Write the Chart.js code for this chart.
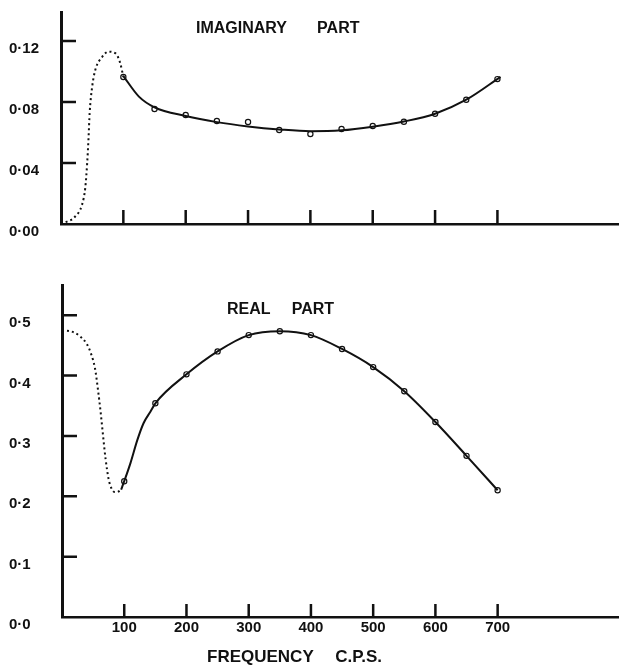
<!DOCTYPE html>
<html>
<head>
<meta charset="utf-8">
<script src="https://cdn.jsdelivr.net/npm/chart.js@4"></script>
<style>
  body { margin: 0; background: #fff; }
  #wrap { position: relative; width: 619px; height: 665px; }
  canvas { position: absolute; left: 0; }
  .lbl {
    position: absolute;
    font: bold 16px "Liberation Sans", Arial, sans-serif;
    line-height: 1;
    color: #111;
    white-space: nowrap;
  }
</style>
</head>
<body>
<div id="wrap">
  <canvas id="imag" width="619" height="250" style="top:0"></canvas>
  <canvas id="real" width="619" height="415" style="top:250px"></canvas>
  <div class="lbl" style="left:196px;top:20px;word-spacing:26px">IMAGINARY PART</div>
  <div class="lbl" style="left:227px;top:301px;word-spacing:17px">REAL PART</div>
  <div class="lbl" style="left:207px;top:648px;font-size:17px;word-spacing:17px">FREQUENCY C.P.S.</div>
</div>
<script>
// measured frequencies (c.p.s.)
const freqPoints = [100, 150, 200, 250, 300, 350, 400, 450, 500, 550, 600, 650, 700];
const imagPoints = [0.0964, 0.0754, 0.0715, 0.0675, 0.0669, 0.0616, 0.059, 0.0623, 0.0643, 0.067, 0.0723, 0.0815, 0.095];
const realPoints = [0.225, 0.354, 0.402, 0.440, 0.467, 0.4735, 0.467, 0.444, 0.414, 0.374, 0.323, 0.267, 0.210];

// smooth curves drawn through the points
const imagFitFreq = [100, 125, 150, 200, 250, 300, 350, 400, 450, 500, 550, 600, 650, 705];
const imagFitVals = [0.097, 0.0835, 0.0765, 0.0708, 0.0668, 0.064, 0.062, 0.0608, 0.0614, 0.0638, 0.0672, 0.0723, 0.0815, 0.0965];
const realFitFreq = [95, 100, 110, 121, 131, 142, 150, 200, 250, 300, 350, 400, 450, 500, 550, 600, 650, 700];
const realFitVals = [0.211, 0.225, 0.255, 0.293, 0.321, 0.340, 0.354, 0.402, 0.440, 0.467, 0.4735, 0.467, 0.444, 0.414, 0.374, 0.323, 0.267, 0.210];

// dotted (extrapolated) parts below 100 c.p.s.
const imagDotFreq = [0, 6, 22, 34, 39, 42, 44, 46, 50, 55, 66, 76, 87, 95, 100];
const imagDotVals = [0, 0.001, 0.0046, 0.013, 0.024, 0.040, 0.055, 0.073, 0.090, 0.101, 0.1095, 0.113, 0.112, 0.1055, 0.0964];
const realDotFreq = [0, 15, 29, 40, 47, 53, 58, 62, 66, 70, 75, 80, 85, 91, 95];
const realDotVals = [0.475, 0.473, 0.465, 0.452, 0.435, 0.412, 0.375, 0.340, 0.300, 0.262, 0.228, 0.212, 0.207, 0.208, 0.211];

// axis ticks
const xTickVals = [100, 200, 300, 400, 500, 600, 700];
const xTickLabels = ['100', '200', '300', '400', '500', '600', '700'];
const imagTickVals = [0, 0.04, 0.08, 0.12];
const imagTickLabels = ['0·00', '0·04', '0·08', '0·12'];
const realTickVals = [0, 0.1, 0.2, 0.3, 0.4, 0.5];
const realTickLabels = ['0·0', '0·1', '0·2', '0·3', '0·4', '0·5'];

Chart.defaults.font.family = '"Liberation Sans", Arial, sans-serif';
Chart.defaults.color = '#111';

const toXY = (xs, ys) => xs.map((x, i) => ({ x, y: ys[i] }));

// tick marks pointing into the plot
const innerTicks = {
  id: 'innerTicks',
  afterDraw(chart, args, opts) {
    const { ctx, chartArea, scales } = chart;
    ctx.save();
    ctx.strokeStyle = '#111';
    ctx.lineWidth = 2.5;
    ctx.beginPath();
    opts.x.forEach((v) => {
      const px = scales.x.getPixelForValue(v);
      ctx.moveTo(px, chartArea.bottom);
      ctx.lineTo(px, chartArea.bottom - opts.xLen);
    });
    opts.y.forEach((v) => {
      if (v === 0) return;
      const py = scales.y.getPixelForValue(v);
      ctx.moveTo(chartArea.left, py);
      ctx.lineTo(chartArea.left + opts.yLen, py);
    });
    ctx.stroke();
    ctx.restore();
  },
};

const dotted = (data) => ({
  data,
  borderColor: '#111',
  borderWidth: 2,
  borderDash: [2, 3],
  pointRadius: 0,
  cubicInterpolationMode: 'monotone',
});

const solid = (data) => ({
  data,
  borderColor: '#111',
  borderWidth: 2,
  pointRadius: 0,
  cubicInterpolationMode: 'monotone',
});

const circles = (data) => ({
  data,
  showLine: false,
  pointRadius: 2.6,
  pointBackgroundColor: '#fff',
  pointBorderColor: '#111',
  pointBorderWidth: 1.2,
});

function makePanel(id, datasets, p) {
  new Chart(document.getElementById(id), {
    type: 'line',
    data: { datasets },
    plugins: [innerTicks],
    options: {
      responsive: false,
      animation: false,
      layout: { autoPadding: false, padding: { left: 9, top: p.top, right: 0, bottom: 0 } },
      plugins: {
        legend: { display: false },
        tooltip: { enabled: false },
        innerTicks: { x: xTickVals, y: p.yTicks, xLen: p.xLen, yLen: 15 },
      },
      scales: {
        x: {
          type: 'linear',
          min: 0,
          max: 895,
          grid: { display: false, drawTicks: false },
          border: { display: true, color: '#111', width: 2.5 },
          afterBuildTicks: (s) => { s.ticks = xTickVals.map((v) => ({ value: v })); },
          afterFit: (s) => {
            s.height = p.xHeight;
            s.paddingLeft = 0;
            s.paddingRight = 0;
          },
          ticks: {
            display: p.xLabels,
            autoSkip: false,
            maxRotation: 0,
            padding: 2,
            font: { size: 15, weight: 'bold' },
            callback: (v, i) => xTickLabels[i],
          },
        },
        y: {
          min: 0,
          max: p.yMax,
          grid: { display: false, drawTicks: false },
          border: { display: true, color: '#111', width: 3 },
          afterBuildTicks: (s) => { s.ticks = p.yTicks.map((v) => ({ value: v })); },
          afterFit: (s) => { s.width = p.yWidth; },
          ticks: {
            crossAlign: 'far',
            labelOffset: 8,
            font: { size: 15, weight: 'bold' },
            callback: (v, i) => p.yLabels[i],
          },
        },
      },
    },
  });
}

makePanel('imag', [
  dotted(toXY(imagDotFreq, imagDotVals)),
  solid(toXY(imagFitFreq, imagFitVals)),
  circles(toXY(freqPoints, imagPoints)),
], {
  top: 12, yMax: 0.139, yTicks: imagTickVals, yLabels: imagTickLabels,
  yWidth: 52, xHeight: 26, xLen: 14, xLabels: false,
});

makePanel('real', [
  dotted(toXY(realDotFreq, realDotVals)),
  solid(toXY(realFitFreq, realFitVals)),
  circles(toXY(freqPoints, realPoints)),
], {
  top: 35, yMax: 0.55, yTicks: realTickVals, yLabels: realTickLabels,
  yWidth: 53, xHeight: 48, xLen: 13, xLabels: true,
});
</script>
</body>
</html>
